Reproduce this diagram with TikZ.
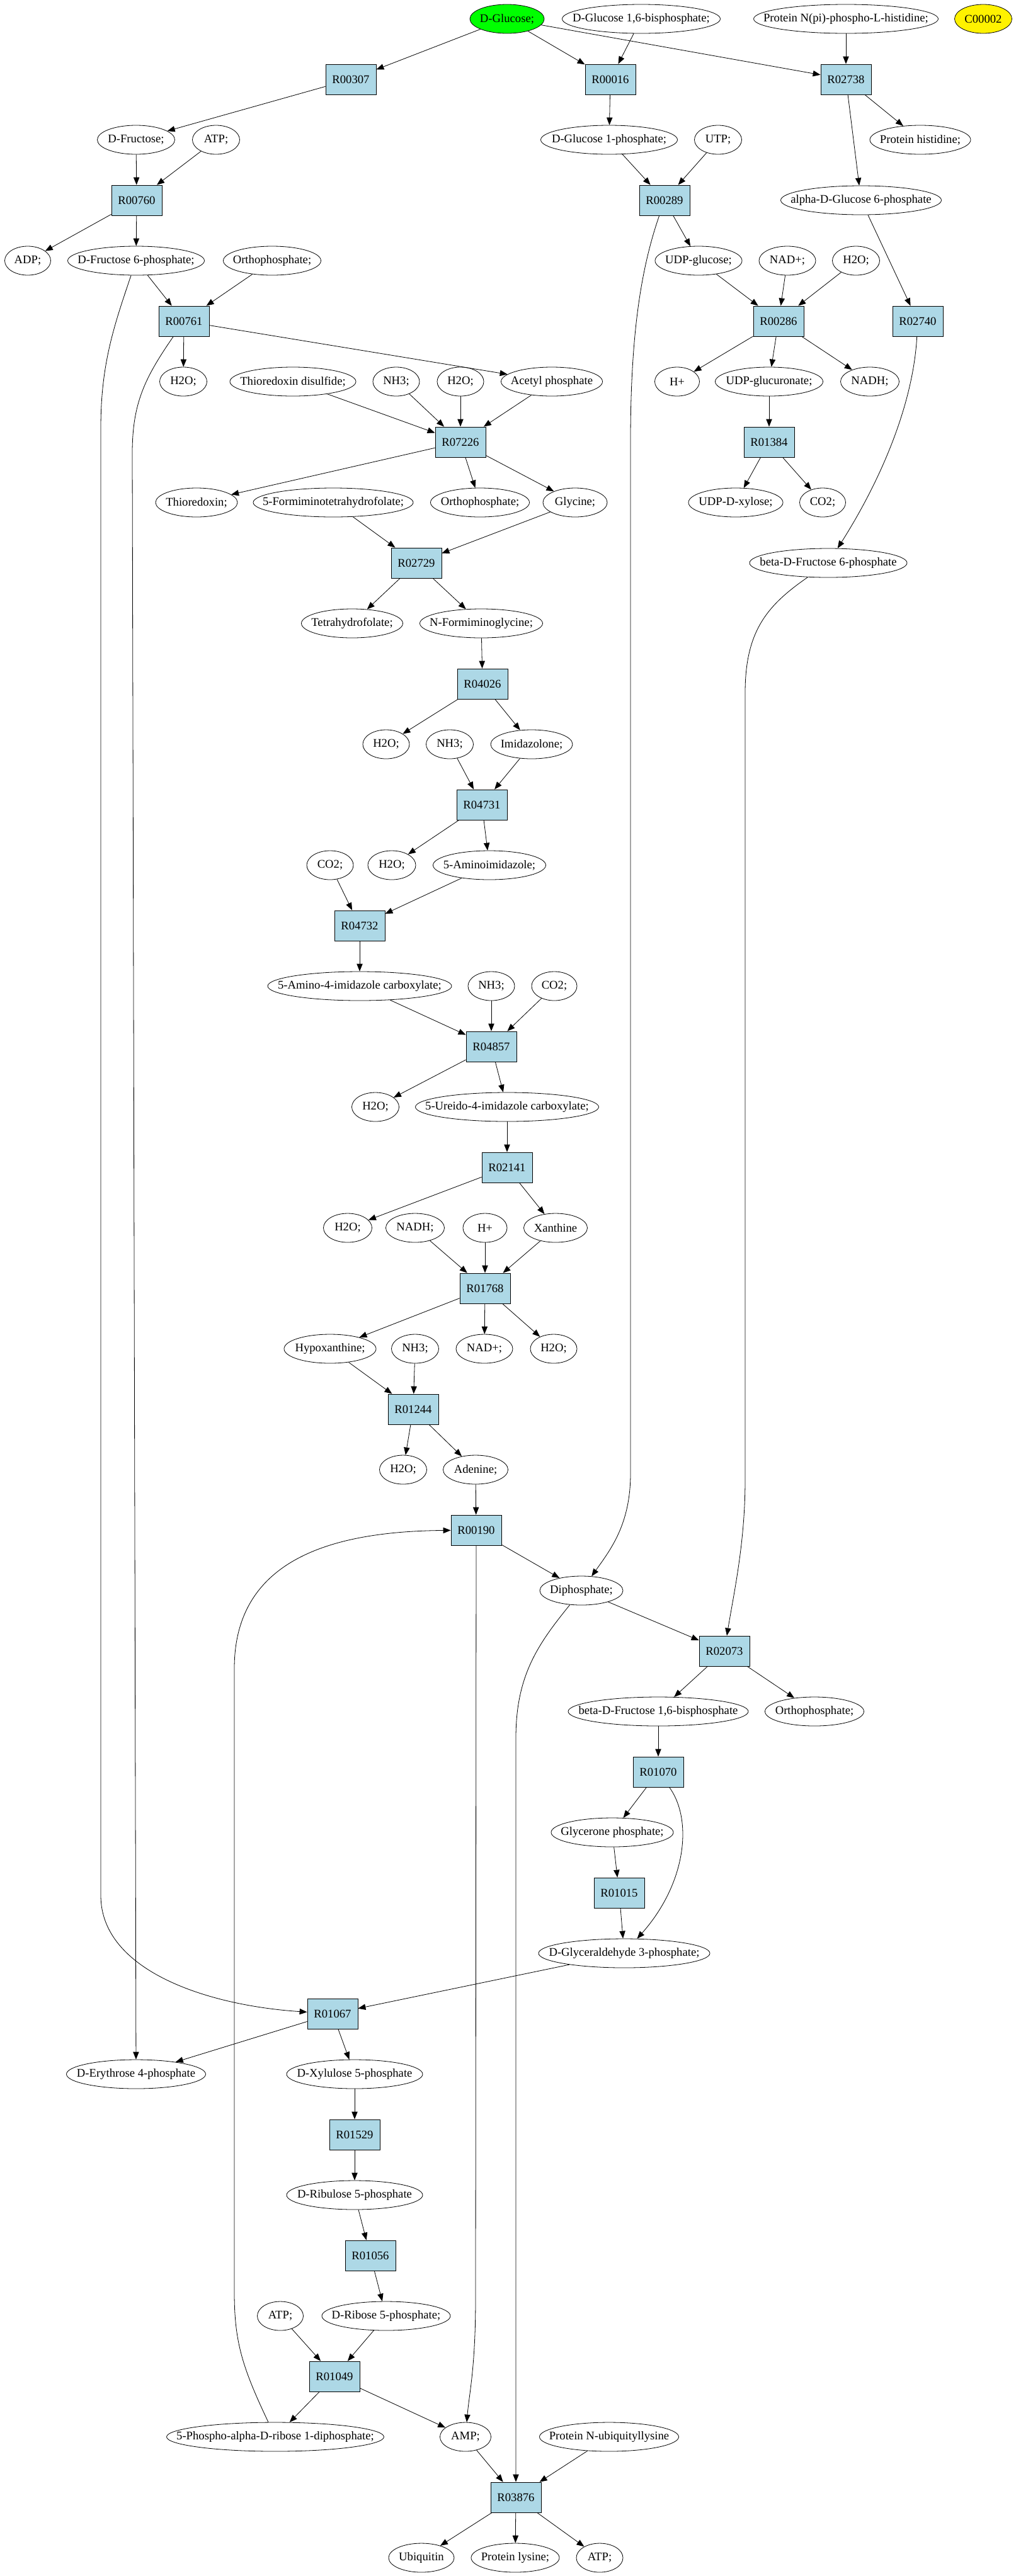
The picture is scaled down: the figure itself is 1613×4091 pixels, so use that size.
\documentclass[tikz,border=0pt]{standalone}
\usepackage{fontspec}
\setmainfont{Liberation Serif}
\usetikzlibrary{shapes.geometric,arrows.meta}
\definecolor{lightblue}{HTML}{ADD8E6}
\tikzset{mw/.style={minimum width=#1*0.75pt}}

\begin{document}
\begin{tikzpicture}[x=0.75pt,y=-0.75pt,font=\fontsize{14pt}{16pt}\selectfont,line width=0.6pt,>={Triangle[length=9pt,width=7pt]}]
    \tikzstyle{reaction}=[rectangle,draw,fill=lightblue,minimum width=60pt,minimum height=36pt,inner sep=0pt]
    \tikzstyle{compound}=[ellipse,draw,minimum height=34.5pt,inner sep=0pt,execute at begin node={\hbox to 0pt\bgroup\hss},execute at end node={\hss\egroup}]
    \fill [white] (0,0) rectangle (1613,4091);
    \useasboundingbox (0,0) rectangle (1613,4091);
    \node (Glc) at (805,30) [compound,mw=118,fill=green] {D-Glucose;};
    \node (Glc16BP) at (1018,30) [compound,mw=251] {D-Glucose 1,6-bisphosphate;};
    \node (PNpHis) at (1343,30) [compound,mw=293] {Protein N(pi)-phospho-L-histidine;};
    \node (C00002) at (1561,30) [compound,mw=91,fill=yellow] {C00002};
    \node (R00307) at (557,126) [reaction] {R00307};
    \node (R00016) at (969,126) [reaction] {R00016};
    \node (R02738) at (1343,126) [reaction] {R02738};
    \node (Fru) at (216,222) [compound,mw=123] {D-Fructose;};
    \node (ATPa) at (343,222) [compound,mw=75] {ATP;};
    \node (G1P) at (967,222) [compound,mw=217] {D-Glucose 1-phosphate;};
    \node (UTP) at (1140,222) [compound,mw=75] {UTP;};
    \node (PHis) at (1461,222) [compound,mw=160] {Protein histidine;};
    \node (R00760) at (217,318) [reaction] {R00760};
    \node (R00289) at (1055,318) [reaction] {R00289};
    \node (aG6P) at (1367,318) [compound,mw=255] {alpha-D-Glucose 6-phosphate};
    \node (ADP) at (44,414) [compound,mw=73] {ADP;};
    \node (F6P) at (216,414) [compound,mw=217] {D-Fructose 6-phosphate;};
    \node (Pia) at (432,414) [compound,mw=155] {Orthophosphate;};
    \node (UDPGlc) at (1109,414) [compound,mw=138] {UDP-glucose;};
    \node (NADa) at (1250,414) [compound,mw=90] {NAD+;};
    \node (H2Oa) at (1359,414) [compound,mw=75] {H2O;};
    \node (R00761) at (292,510) [reaction] {R00761};
    \node (R00286) at (1236,510) [reaction] {R00286};
    \node (R02740) at (1457,510) [reaction] {R02740};
    \node (H2Ob) at (291,606) [compound,mw=75] {H2O;};
    \node (TrxSS) at (465,606) [compound,mw=200] {Thioredoxin disulfide;};
    \node (NH3a) at (629,606) [compound,mw=74] {NH3;};
    \node (H2Oc) at (731,606) [compound,mw=74] {H2O;};
    \node (AcP) at (876,606) [compound,mw=161] {Acetyl phosphate};
    \node (Ha) at (1075,606) [compound,mw=71] {H+};
    \node (UDPGlcA) at (1221,606) [compound,mw=171] {UDP-glucuronate;};
    \node (NADHa) at (1381,606) [compound,mw=93] {NADH;};
    \node (R07226) at (731,702) [reaction] {R07226};
    \node (R01384) at (1221,702) [reaction] {R01384};
    \node (Trx) at (312,798) [compound,mw=130] {Thioredoxin;};
    \node (FTHF) at (529,798) [compound,mw=254] {5-Formiminotetrahydrofolate;};
    \node (Pib) at (762,798) [compound,mw=157] {Orthophosphate;};
    \node (Gly) at (913,798) [compound,mw=102] {Glycine;};
    \node (UDPXyl) at (1168,798) [compound,mw=150] {UDP-D-xylose;};
    \node (CO2a) at (1306,798) [compound,mw=73] {CO2;};
    \node (R02729) at (661,894) [reaction] {R02729};
    \node (bF6P) at (1315,894) [compound,mw=250] {beta-D-Fructose 6-phosphate};
    \node (THF) at (559,990) [compound,mw=161] {Tetrahydrofolate;};
    \node (FIGly) at (764,990) [compound,mw=195] {N-Formiminoglycine;};
    \node (R04026) at (766,1086) [reaction] {R04026};
    \node (H2Od) at (613,1182) [compound,mw=74] {H2O;};
    \node (NH3b) at (714,1182) [compound,mw=75] {NH3;};
    \node (Imd) at (844,1182) [compound,mw=130] {Imidazolone;};
    \node (R04731) at (765,1278) [reaction] {R04731};
    \node (CO2b) at (524,1374) [compound,mw=74] {CO2;};
    \node (H2Oe) at (622,1374) [compound,mw=76] {H2O;};
    \node (AIm) at (777,1374) [compound,mw=179] {5-Aminoimidazole;};
    \node (R04732) at (571,1470) [reaction] {R04732};
    \node (AICx) at (571,1566) [compound,mw=292] {5-Amino-4-imidazole carboxylate;};
    \node (NH3c) at (780,1566) [compound,mw=74] {NH3;};
    \node (CO2c) at (880,1566) [compound,mw=72] {CO2;};
    \node (R04857) at (780,1662) [reaction] {R04857};
    \node (H2Of) at (596,1758) [compound,mw=75] {H2O;};
    \node (UICx) at (805,1758) [compound,mw=291] {5-Ureido-4-imidazole carboxylate;};
    \node (R02141) at (805,1854) [reaction] {R02141};
    \node (H2Og) at (552,1950) [compound,mw=77] {H2O;};
    \node (NADHb) at (659,1950) [compound,mw=93] {NADH;};
    \node (Hb) at (770,1950) [compound,mw=70] {H+};
    \node (Xan) at (882,1950) [compound,mw=101] {Xanthine};
    \node (R01768) at (770,2046) [reaction] {R01768};
    \node (Hyp) at (524,2142) [compound,mw=146] {Hypoxanthine;};
    \node (NH3d) at (659,2142) [compound,mw=75] {NH3;};
    \node (NADb) at (769,2142) [compound,mw=90] {NAD+;};
    \node (H2Oh) at (879,2142) [compound,mw=74] {H2O;};
    \node (R01244) at (656,2238) [reaction] {R01244};
    \node (H2Oi) at (640,2334) [compound,mw=75] {H2O;};
    \node (Ade) at (755,2334) [compound,mw=103] {Adenine;};
    \node (R00190) at (756,2430) [reaction] {R00190};
    \node (PPi) at (923,2526) [compound,mw=132] {Diphosphate;};
    \node (R02073) at (1150,2622) [reaction] {R02073};
    \node (bF16BP) at (1045,2718) [compound,mw=286] {beta-D-Fructose 1,6-bisphosphate};
    \node (Pic) at (1293,2718) [compound,mw=157] {Orthophosphate;};
    \node (R01070) at (1045,2814) [reaction] {R01070};
    \node (DHAP) at (972,2910) [compound,mw=194] {Glycerone phosphate;};
    \node (R01015) at (983,3006) [reaction] {R01015};
    \node (GAP) at (991,3102) [compound,mw=272] {D-Glyceraldehyde 3-phosphate;};
    \node (R01067) at (528,3198) [reaction] {R01067};
    \node (E4P) at (216,3294) [compound,mw=221] {D-Erythrose 4-phosphate};
    \node (Xu5P) at (563,3294) [compound,mw=216] {D-Xylulose 5-phosphate};
    \node (R01529) at (563,3390) [reaction] {R01529};
    \node (Ru5P) at (563,3486) [compound,mw=216] {D-Ribulose 5-phosphate};
    \node (R01056) at (588,3582) [reaction] {R01056};
    \node (ATPb) at (445,3678) [compound,mw=73] {ATP;};
    \node (R5P) at (613,3678) [compound,mw=204] {D-Ribose 5-phosphate;};
    \node (R01049) at (531,3774) [reaction] {R01049};
    \node (PRPP) at (437,3870) [compound,mw=345] {5-Phospho-alpha-D-ribose 1-diphosphate;};
    \node (AMP) at (739,3870) [compound,mw=81] {AMP;};
    \node (PUbLys) at (967,3870) [compound,mw=221] {Protein N-ubiquityllysine};
    \node (R03876) at (819,3966) [reaction] {R03876};
    \node (Ubq) at (669,4062) [compound,mw=104] {Ubiquitin};
    \node (PLys) at (818,4062) [compound,mw=140] {Protein lysine;};
    \node (ATPc) at (952,4062) [compound,mw=74] {ATP;};
    \draw [->] (Glc) -- (R00307);
    \draw [->] (Glc) -- (R00016);
    \draw [->] (Glc) -- (R02738);
    \draw [->] (Glc16BP) -- (R00016);
    \draw [->] (PNpHis) -- (R02738);
    \draw [->] (R00307) -- (Fru);
    \draw [->] (R00016) -- (G1P);
    \draw [->] (R02738) -- (PHis);
    \draw [->] (R02738) -- (aG6P);
    \draw [->] (Fru) -- (R00760);
    \draw [->] (ATPa) -- (R00760);
    \draw [->] (G1P) -- (R00289);
    \draw [->] (UTP) -- (R00289);
    \draw [->] (aG6P) -- (R02740);
    \draw [->] (R00760) -- (ADP);
    \draw [->] (R00760) -- (F6P);
    \draw [->] (R00289) -- (UDPGlc);
    \draw [->] (R00289) .. controls (1020,420) and (1001,520) .. (1001,700) -- (1001,2340) .. controls (1001,2420) and (970,2460) .. (PPi);
    \draw [->] (F6P) -- (R00761);
    \draw [->] (Pia) -- (R00761);
    \draw [->] (F6P) .. controls (180,520) and (160,580) .. (160,680) -- (160,3010) .. controls (160,3130) and (330,3185) .. (R01067);
    \draw [->] (UDPGlc) -- (R00286);
    \draw [->] (NADa) -- (R00286);
    \draw [->] (H2Oa) -- (R00286);
    \draw [->] (R02740) .. controls (1450,640) and (1400,760) .. (bF6P);
    \draw [->] (R00761) -- (H2Ob);
    \draw [->] (R00761) -- (AcP);
    \draw [->] (R00761) .. controls (230,600) and (210,640) .. (210,720) -- (E4P);
    \draw [->] (R00286) -- (Ha);
    \draw [->] (R00286) -- (UDPGlcA);
    \draw [->] (R00286) -- (NADHa);
    \draw [->] (TrxSS) -- (R07226);
    \draw [->] (NH3a) -- (R07226);
    \draw [->] (H2Oc) -- (R07226);
    \draw [->] (AcP) -- (R07226);
    \draw [->] (UDPGlcA) -- (R01384);
    \draw [->] (R07226) -- (Trx);
    \draw [->] (R07226) -- (Pib);
    \draw [->] (R07226) -- (Gly);
    \draw [->] (R01384) -- (UDPXyl);
    \draw [->] (R01384) -- (CO2a);
    \draw [->] (FTHF) -- (R02729);
    \draw [->] (Gly) -- (R02729);
    \draw [->] (R02729) -- (THF);
    \draw [->] (R02729) -- (FIGly);
    \draw [->] (bF6P) .. controls (1220,960) and (1183,1000) .. (1183,1100) -- (1183,2350) .. controls (1183,2450) and (1165,2530) .. (R02073);
    \draw [->] (FIGly) -- (R04026);
    \draw [->] (R04026) -- (H2Od);
    \draw [->] (R04026) -- (Imd);
    \draw [->] (NH3b) -- (R04731);
    \draw [->] (Imd) -- (R04731);
    \draw [->] (R04731) -- (H2Oe);
    \draw [->] (R04731) -- (AIm);
    \draw [->] (CO2b) -- (R04732);
    \draw [->] (AIm) -- (R04732);
    \draw [->] (R04732) -- (AICx);
    \draw [->] (AICx) -- (R04857);
    \draw [->] (NH3c) -- (R04857);
    \draw [->] (CO2c) -- (R04857);
    \draw [->] (R04857) -- (H2Of);
    \draw [->] (R04857) -- (UICx);
    \draw [->] (UICx) -- (R02141);
    \draw [->] (R02141) -- (H2Og);
    \draw [->] (R02141) -- (Xan);
    \draw [->] (NADHb) -- (R01768);
    \draw [->] (Hb) -- (R01768);
    \draw [->] (Xan) -- (R01768);
    \draw [->] (R01768) -- (Hyp);
    \draw [->] (R01768) -- (NADb);
    \draw [->] (R01768) -- (H2Oh);
    \draw [->] (Hyp) -- (R01244);
    \draw [->] (NH3d) -- (R01244);
    \draw [->] (R01244) -- (H2Oi);
    \draw [->] (R01244) -- (Ade);
    \draw [->] (Ade) -- (R00190);
    \draw [->] (PRPP) .. controls (385,3760) and (372,3720) .. (372,3640) -- (372,2650) .. controls (372,2480) and (520,2432) .. (R00190);
    \draw [->] (R00190) -- (PPi);
    \draw [->] (R00190) -- (755,3650) .. controls (755,3760) and (745,3800) .. (AMP);
    \draw [->] (PPi) -- (R02073);
    \draw [->] (PPi) .. controls (855,2610) and (819,2660) .. (819,2760) -- (R03876);
    \draw [->] (R02073) -- (bF16BP);
    \draw [->] (R02073) -- (Pic);
    \draw [->] (bF16BP) -- (R01070);
    \draw [->] (R01070) -- (DHAP);
    \draw [->] (R01070) .. controls (1100,2890) and (1090,2990) .. (GAP);
    \draw [->] (DHAP) -- (R01015);
    \draw [->] (R01015) -- (GAP);
    \draw [->] (GAP) -- (R01067);
    \draw [->] (R01067) -- (E4P);
    \draw [->] (R01067) -- (Xu5P);
    \draw [->] (Xu5P) -- (R01529);
    \draw [->] (R01529) -- (Ru5P);
    \draw [->] (Ru5P) -- (R01056);
    \draw [->] (R01056) -- (R5P);
    \draw [->] (ATPb) -- (R01049);
    \draw [->] (R5P) -- (R01049);
    \draw [->] (R01049) -- (PRPP);
    \draw [->] (R01049) -- (AMP);
    \draw [->] (AMP) -- (R03876);
    \draw [->] (PUbLys) -- (R03876);
    \draw [->] (R03876) -- (Ubq);
    \draw [->] (R03876) -- (PLys);
    \draw [->] (R03876) -- (ATPc);
\end{tikzpicture}
\end{document}
